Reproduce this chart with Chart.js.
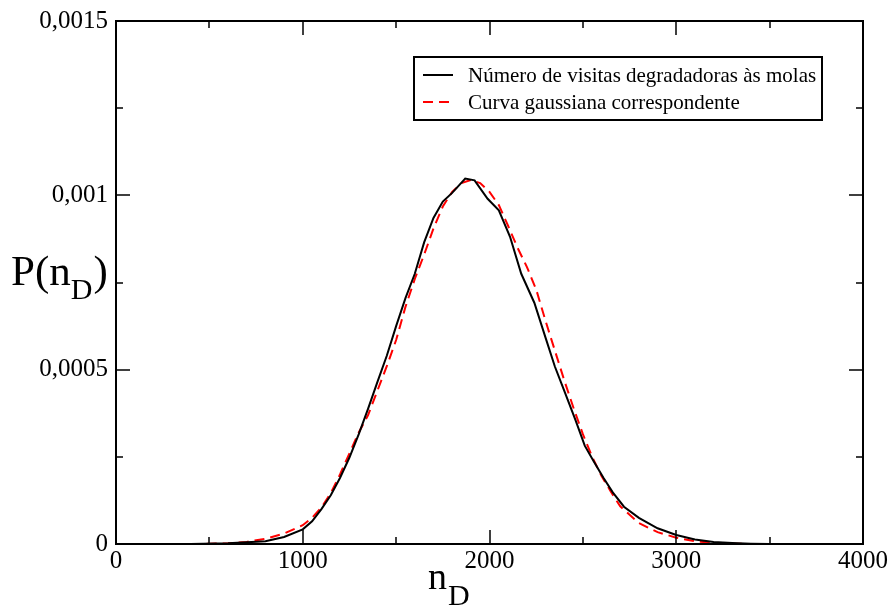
<!DOCTYPE html>
<html>
<head>
<meta charset="utf-8">
<script src="https://cdn.jsdelivr.net/npm/chart.js@4.4.1/dist/chart.umd.min.js"></script>
<style>
  html, body { margin: 0; padding: 0; background: #fff; }
</style>
</head>
<body>
<canvas id="grafico" width="891" height="608"></canvas>
<script>
// dados
const nDados = [400, 600, 800, 900, 1000, 1050, 1100, 1150, 1200, 1250, 1300, 1350, 1400, 1450, 1500,
  1550, 1600, 1650, 1700, 1750, 1800, 1870, 1920, 1990, 2050, 2110, 2170, 2240, 2300, 2350, 2400,
  2460, 2510, 2560, 2610, 2660, 2720, 2800, 2900, 3000, 3100, 3200, 3300, 3400, 3500, 3700];
const pDados = [0, 0.000002, 0.000008, 0.00002, 0.000042, 0.000065, 0.0001, 0.00014, 0.00019, 0.000248,
  0.000315, 0.000388, 0.000465, 0.00054, 0.000625, 0.000705, 0.000775, 0.000865, 0.000935, 0.000982,
  0.001007, 0.001048, 0.001043, 0.00099, 0.000957, 0.000881, 0.000775, 0.000692, 0.000592, 0.000509,
  0.00044, 0.000356, 0.000282, 0.000235, 0.00019, 0.000148, 0.000107, 0.000075, 0.000045, 0.000026,
  0.000013, 0.000006, 0.000003, 0.000001, 0, 0];

const nGauss = [400, 500, 600, 700, 800, 900, 1000, 1050, 1100, 1150, 1200, 1250, 1300, 1350, 1400,
  1450, 1500, 1550, 1600, 1650, 1700, 1750, 1800, 1850, 1900, 1950, 2000, 2050, 2100, 2150, 2200,
  2250, 2300, 2350, 2400, 2450, 2500, 2550, 2600, 2650, 2700, 2800, 2900, 3000, 3100, 3200, 3300, 3400];
const pGauss = [0, 0.0000005, 0.000002, 0.000006, 0.000015, 0.00003, 0.000054, 0.000075, 0.000105,
  0.000146, 0.0002, 0.00026, 0.00032, 0.00037, 0.00044, 0.00051, 0.000585, 0.00068, 0.00076, 0.00083,
  0.000905, 0.000968, 0.00101, 0.001035, 0.001044, 0.001035, 0.00101, 0.000972, 0.000912, 0.00085,
  0.000795, 0.00073, 0.00064, 0.000555, 0.00047, 0.00039, 0.000315, 0.00025, 0.000195, 0.00015,
  0.000108, 0.00006, 0.000034, 0.000018, 0.000008, 0.000003, 0.000001, 0];

const nomes = ["Número de visitas degradadoras às molas", "Curva gaussiana correspondente"];
const xTicks = ["0", "1000", "2000", "3000", "4000"];
const yTicks = ["0", "0,0005", "0,001", "0,0015"];

const fonte = "Liberation Serif, Times New Roman, serif";

// moldura com marcas para dentro, nos quatro lados
const moldura = {
  id: "moldura",
  afterDraw(chart) {
    const ctx = chart.ctx;
    const a = chart.chartArea;
    const sx = chart.scales.x, sy = chart.scales.y;
    ctx.save();
    ctx.strokeStyle = "#000";
    ctx.lineWidth = 2;
    ctx.strokeRect(a.left, a.top, a.right - a.left, a.bottom - a.top);

    const marcas = (ticks, escala, vertical) => {
      const vals = ticks.map(t => t.value);
      for (let i = 0; i < vals.length; i++) {
        const lst = [[vals[i], 14]];
        if (i < vals.length - 1) lst.push([(vals[i] + vals[i + 1]) / 2, 7]);
        lst.forEach(([v, len]) => {
          const p = Math.round(escala.getPixelForValue(v));
          ctx.beginPath();
          if (vertical) {
            ctx.moveTo(p, a.bottom); ctx.lineTo(p, a.bottom - len);
            ctx.moveTo(p, a.top); ctx.lineTo(p, a.top + len);
          } else {
            ctx.moveTo(a.left, p); ctx.lineTo(a.left + len, p);
            ctx.moveTo(a.right, p); ctx.lineTo(a.right - len, p);
          }
          ctx.stroke();
        });
      }
    };
    ctx.lineWidth = 1.5;
    marcas(sx.ticks, sx, true);
    marcas(sy.ticks, sy, false);

    // títulos dos eixos com subscrito
    ctx.fillStyle = "#000";
    ctx.textBaseline = "alphabetic";
    ctx.textAlign = "left";
    ctx.font = "38px " + fonte;
    ctx.fillText("n", 428, 589);
    ctx.font = "30px " + fonte;
    ctx.fillText("D", 448, 605);

    ctx.font = "43px " + fonte;
    ctx.fillText("P(n", 11, 285);
    let w = ctx.measureText("P(n").width;
    ctx.font = "30px " + fonte;
    ctx.fillText("D", 11 + w, 299);
    let w2 = ctx.measureText("D").width;
    ctx.font = "43px " + fonte;
    ctx.fillText(")", 11 + w + w2 + 1, 285);

    // legenda
    ctx.lineWidth = 2;
    ctx.strokeRect(414, 57, 408, 63);
    chart.data.datasets.forEach((ds, i) => {
      const y = 75 + i * 27;
      ctx.strokeStyle = ds.borderColor;
      ctx.lineWidth = ds.borderWidth;
      ctx.setLineDash(ds.borderDash || []);
      ctx.beginPath();
      ctx.moveTo(423, y); ctx.lineTo(453, y);
      ctx.stroke();
      ctx.setLineDash([]);
      ctx.font = "21px " + fonte;
      ctx.textBaseline = "middle";
      ctx.fillText(ds.label, 468, y + 1);
    });
    ctx.restore();
  }
};

const grafico = new Chart(document.getElementById("grafico"), {
  type: "line",
  data: {
    datasets: [
      {
        label: nomes[0],
        data: nDados.map((n, i) => ({ x: n, y: pDados[i] })),
        borderColor: "#000",
        borderWidth: 2,
        pointRadius: 0,
        tension: 0
      },
      {
        label: nomes[1],
        data: nGauss.map((n, i) => ({ x: n, y: pGauss[i] })),
        borderColor: "#ff0000",
        borderWidth: 2,
        borderDash: [10, 6],
        pointRadius: 0,
        tension: 0
      }
    ]
  },
  options: {
    responsive: false,
    animation: false,
    layout: { padding: { left: 0, right: 28, top: 21, bottom: 0 } },
    plugins: { legend: { display: false }, tooltip: { enabled: false } },
    scales: {
      x: {
        type: "linear",
        min: 0, max: 4000,
        afterFit(s) { s.height = 64; },
        grid: { display: false },
        border: { display: false },
        ticks: {
          stepSize: 1000,
          padding: -6,
          maxRotation: 0,
          color: "#000",
          font: { family: fonte, size: 25 },
          callback: (v, i) => xTicks[i]
        }
      },
      y: {
        min: 0, max: 0.0015,
        afterFit(s) { s.width = 116; },
        grid: { display: false },
        border: { display: false },
        ticks: {
          stepSize: 0.0005,
          padding: 0,
          color: "#000",
          font: { family: fonte, size: 25 },
          callback: (v, i) => yTicks[i]
        }
      }
    }
  },
  plugins: [moldura]
});
</script>
</body>
</html>
